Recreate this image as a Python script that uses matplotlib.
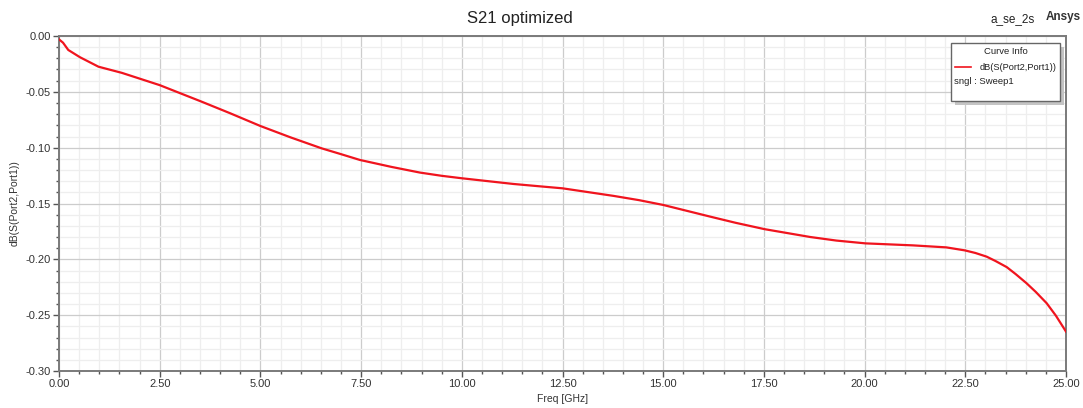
import matplotlib.pyplot as plt
from matplotlib.ticker import MultipleLocator, FormatStrFormatter
from matplotlib.patches import Rectangle
from matplotlib.lines import Line2D

plt.rcParams['font.family'] = ['Liberation Sans', 'DejaVu Sans']

freq = [0.0, 0.1, 0.23, 0.52, 0.98, 1.56, 2.5, 3.54, 4.25, 5.0, 5.75, 6.52,
        7.0, 7.47, 8.25, 8.96, 9.5, 10.0, 10.6, 11.28, 11.9, 12.5, 13.77,
        14.4, 15.0, 16.16, 16.8, 17.52, 18.65, 19.3, 20.02, 21.2, 22.03,
        22.49, 22.75, 23.03, 23.25, 23.53, 23.75, 24.02, 24.25, 24.52, 24.75,
        25.0]
s21 = [-0.003, -0.006, -0.0125, -0.019, -0.0275, -0.033, -0.044, -0.0588,
       -0.0692, -0.0806, -0.0908, -0.1006, -0.1058, -0.111, -0.1172, -0.1223,
       -0.1252, -0.1274, -0.1298, -0.1325, -0.1345, -0.1364, -0.1432,
       -0.1470, -0.1513, -0.1617, -0.1673, -0.173, -0.180, -0.1832, -0.1857,
       -0.1875, -0.1893, -0.192, -0.1943, -0.1976, -0.2015, -0.207, -0.2132,
       -0.2214, -0.2292, -0.2393, -0.2505, -0.2647]

W, H = 1083, 408
fig = plt.figure(figsize=(W / 100, H / 100), dpi=100, facecolor="white")
ax = fig.add_axes([59 / W, 1 - 371 / H, (1066 - 59) / W, (371 - 36) / H])

ax.plot(freq, s21, color="#f0141e", linewidth=1.6, zorder=3,
        solid_joinstyle="round")

ax.set_xlim(0, 25)
ax.set_ylim(-0.30, 0.0)
ax.xaxis.set_major_locator(MultipleLocator(2.5))
ax.xaxis.set_minor_locator(MultipleLocator(0.5))
ax.yaxis.set_major_locator(MultipleLocator(0.05))
ax.yaxis.set_minor_locator(MultipleLocator(0.01))
ax.xaxis.set_major_formatter(FormatStrFormatter("%.2f"))
ax.yaxis.set_major_formatter(FormatStrFormatter("%.2f"))

ax.grid(which="major", color="#cccccc", linewidth=0.9)
ax.grid(which="minor", color="#eeeeee", linewidth=0.9)
ax.set_axisbelow(True)

for s in ax.spines.values():
    s.set_color("#7a7a7a")
    s.set_linewidth(1.4)

ax.tick_params(which="major", length=4, width=1, color="#555555",
               labelsize=8, labelcolor="#333333", pad=2)
ax.tick_params(which="minor", length=2.5, width=1, color="#555555")

ax.set_xlabel("Freq [GHz]", fontsize=7.5, color="#333333", labelpad=3)
ax.set_ylabel("dB(S(Port2,Port1))", fontsize=7.5, color="#333333", labelpad=4)

fig.text(520 / W, 1 - 19 / H, "S21 optimized", ha="center", va="center",
         fontsize=12, color="#222222")
fig.text(1013 / W, 1 - 19 / H, "a_se_2s", ha="center", va="center",
         fontsize=8.5, color="#222222")
fig.text(1063 / W, 1 - 17 / H, "Ansys", ha="center", va="center",
         fontsize=8.5, fontweight="bold", color="#333333")

# curve info box
bx0, by0, bx1, by1 = 951, 43, 1060, 101
fig.patches.append(Rectangle((bx0 / W + 4 / W, 1 - (by1 + 4) / H),
                             (bx1 - bx0) / W, (by1 - by0) / H,
                             transform=fig.transFigure, facecolor="#c4c4c4",
                             edgecolor="none", zorder=4))
fig.patches.append(Rectangle((bx0 / W, 1 - by1 / H), (bx1 - bx0) / W,
                             (by1 - by0) / H, transform=fig.transFigure,
                             facecolor="white", edgecolor="#666666",
                             linewidth=1, zorder=5))
fig.text((bx0 + bx1) / 2 / W, 1 - 52 / H, "Curve Info", ha="center",
         va="center", fontsize=6.8, color="#222222", zorder=6)
fig.lines.append(Line2D([955 / W, 971 / W], [1 - 67 / H, 1 - 67 / H],
                        transform=fig.transFigure, color="#f0141e",
                        linewidth=1.2, zorder=6))
fig.text(980 / W, 1 - 68 / H, "dB(S(Port2,Port1))", ha="left", va="center",
         fontsize=6.7, color="#222222", zorder=6)
fig.text(954 / W, 1 - 82 / H, "sngl : Sweep1", ha="left", va="center",
         fontsize=6.8, color="#222222", zorder=6)

fig.savefig("out.png", dpi=100, facecolor="white")
